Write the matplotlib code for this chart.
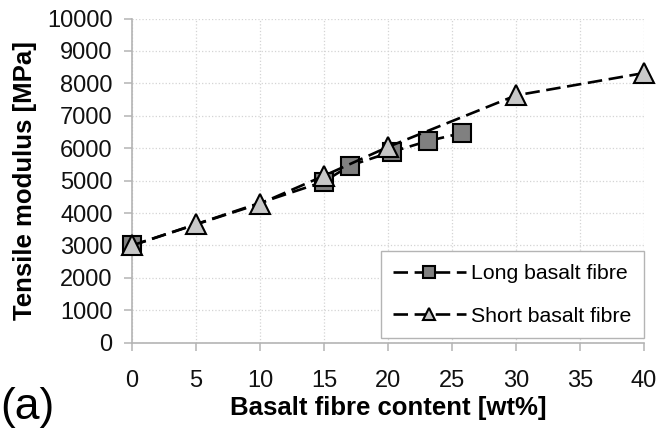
import matplotlib
matplotlib.use("Agg")
import matplotlib.pyplot as plt

# Data
long_content = [0, 15, 17, 20.3, 23.1, 25.8]
long_modulus = [3000, 4970, 5460, 5890, 6220, 6470]

short_content = [0, 5, 10, 15, 20, 30, 40]
short_modulus = [3000, 3650, 4290, 5150, 6040, 7630, 8320]

x_ticks = [0, 5, 10, 15, 20, 25, 30, 35, 40]
y_ticks = [0, 1000, 2000, 3000, 4000, 5000, 6000, 7000, 8000, 9000, 10000]

plt.rcParams["font.family"] = ["Liberation Sans", "DejaVu Sans"]

fig = plt.figure(figsize=(6.61, 4.32), dpi=100)
ax = fig.add_axes([0.1997, 0.2067, 0.7746, 0.7503])

# Common line style: black dashed line through the markers
line_style = dict(
    color="black", linestyle=(0, (5.5, 2.5)), linewidth=1.9,
    markeredgecolor="black", markeredgewidth=1.5, clip_on=False,
)

ax.plot(long_content, long_modulus, marker="s", markersize=13.2,
        markerfacecolor="#808080", label="Long basalt fibre",
        zorder=3, **line_style)
ax.plot(short_content, short_modulus, marker="^", markersize=14,
        markerfacecolor="#c8c8c8", label="Short basalt fibre",
        zorder=4, **line_style)

ax.set_xlim(0, 40)
ax.set_ylim(0, 10000)
ax.set_xticks(x_ticks)
ax.set_yticks(y_ticks)

# Light dotted grid, grey axes on left and bottom only
ax.grid(True, color="#d4d4d4", linestyle=":", linewidth=0.9)
ax.set_axisbelow(True)
for side in ["top", "right"]:
    ax.spines[side].set_visible(False)
for side in ["left", "bottom"]:
    ax.spines[side].set_color("#b4b4b4")
    ax.spines[side].set_linewidth(1.2)

ax.tick_params(axis="both", colors="#b4b4b4", labelcolor="#111111",
               labelsize=17, length=5.5, width=1.1, direction="out")
ax.tick_params(axis="x", pad=14)
ax.tick_params(axis="y", pad=8.5)

ax.set_xlabel("Basalt fibre content [wt%]", fontsize=18.5,
              fontweight="bold", va="center")
ax.set_ylabel("Tensile modulus [MPa]", fontsize=18.5,
              fontweight="bold", va="center")
ax.xaxis.set_label_coords(0.5, -0.2)
ax.yaxis.set_label_coords(-0.209, 0.5)

legend = ax.legend(
    loc="lower right", bbox_to_anchor=(1.0, 0.0136), borderaxespad=0,
    fontsize=15.3, markerscale=0.65, handlelength=3.4, handletextpad=0.25,
    borderpad=0.6, labelspacing=1.1, fancybox=False, framealpha=1,
    edgecolor="#b4b4b4",
)
legend.get_frame().set_linewidth(1.0)

fig.text(0.0, 0.03, "(a)", fontsize=32, va="baseline", ha="left")

fig.savefig("out.png", dpi=100)
